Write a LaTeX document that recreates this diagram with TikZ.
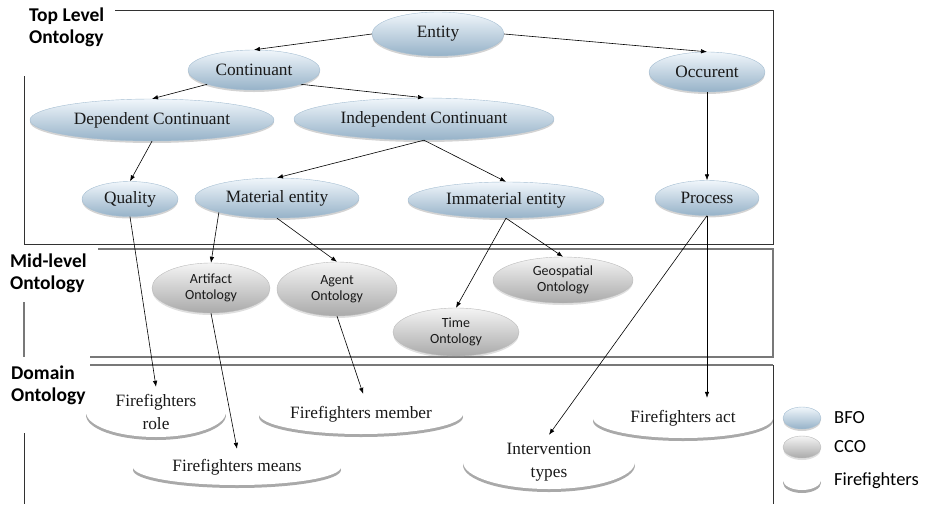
\documentclass[tikz,border=0pt]{standalone}
\usepackage{fontspec}
\setmainfont{Liberation Serif}
\newfontfamily\calib{Carlito}
\usetikzlibrary{shapes.geometric,arrows.meta,shadows}
\definecolor{bfotop}{RGB}{240,246,251}
\definecolor{bfobot}{RGB}{150,178,200}
\definecolor{bforim}{RGB}{165,190,210}
\definecolor{ccotop}{RGB}{244,244,244}
\definecolor{ccobot}{RGB}{170,170,170}
\definecolor{boxdark}{RGB}{50,50,50}
\definecolor{boxgray}{RGB}{120,120,120}
\definecolor{txt}{RGB}{25,25,25}
\tikzset{
  ell/.style={ellipse, inner sep=0pt, align=center, text=txt},
  bfo/.style={ell, top color=bfotop, bottom color=bfobot, draw=bforim, line width=0.4pt,
     font=\fontsize{17.3}{19}\selectfont,
     drop shadow={shadow xshift=0pt, shadow yshift=-2pt, opacity=0.35}},
  cco/.style={ell, top color=ccotop, bottom color=ccobot, draw=ccobot!80, line width=0.4pt,
     font=\calib\fontsize{14}{16}\selectfont,
     drop shadow={shadow xshift=0pt, shadow yshift=-2pt, opacity=0.25}},
  ffo/.style={ell, fill=white, font=\fontsize{17.3}{23}\selectfont,
     drop shadow={shadow xshift=0pt, shadow yshift=-3pt, fill=gray!90, opacity=0.75}},
  arr/.style={-{Latex[length=6pt,width=4.5pt]}, line width=0.6pt, black},
  lvl/.style={font=\calib\bfseries\fontsize{19.5}{22}\selectfont, align=left, anchor=north west, inner sep=0pt},
  leg/.style={font=\calib\fontsize{18.5}{21}\selectfont, anchor=west, inner sep=0pt},
  boxline/.style={boxdark, line width=0.8pt},
  midline/.style={boxgray, line width=1.1pt}
}
\begin{document}
\begin{tikzpicture}[x=1pt,y=-1pt]
\useasboundingbox (0,0) rectangle (927,504);
% level labels
\node[lvl] (ltop) at (29,8) {Top Level\\Ontology};
\node[lvl] (lmid) at (10,254) {Mid-level\\Ontology};
\node[lvl] (ldom) at (11,366) {Domain\\Ontology};
% boxes
\draw[boxline] (115,10) -- (773,10) -- (773,244) -- (24,244) -- (24,76);
\draw[midline] (98,249) -- (773,249) -- (773,357) -- (90,357);
\draw[midline] (24,302) -- (24,357);
\draw[midline] (90,365) -- (773,365);
\draw[boxline] (773,365) -- (773,504);
\draw[boxline] (24,433) -- (24,504);
% BFO nodes
\node[bfo, minimum width=132pt, minimum height=44pt] (entity) at (438,34) {Entity};
\node[bfo, minimum width=132pt, minimum height=40pt] (cont) at (254,70) {Continuant};
\node[bfo, minimum width=116pt, minimum height=40pt] (occ) at (707,72) {Occurent};
\node[bfo, minimum width=244pt, minimum height=42pt] (dep) at (152,120) {Dependent Continuant};
\node[bfo, minimum width=260pt, minimum height=42pt] (indep) at (424,119) {Independent Continuant};
\node[bfo, minimum width=96pt, minimum height=35pt] (qual) at (130,199) {Quality};
\node[bfo, minimum width=164pt, minimum height=40pt] (mat) at (277,198) {Material entity};
\node[bfo, minimum width=196pt, minimum height=36pt] (immat) at (506,200) {Immaterial entity};
\node[bfo, minimum width=104pt, minimum height=35pt] (proc) at (707,198) {Process};
% CCO nodes
\node[cco, minimum width=118pt, minimum height=50pt] (artif) at (211,288) {Artifact\\Ontology};
\node[cco, minimum width=120pt, minimum height=54pt] (agent) at (337,289) {Agent\\Ontology};
\node[cco, minimum width=140pt, minimum height=46pt] (geo) at (563,280) {Geospatial\\Ontology};
\node[cco, minimum width=126pt, minimum height=48pt] (time) at (456,332) {Time\\Ontology};
% Firefighters nodes
\node[ffo, minimum width=140pt, minimum height=40pt] (role) at (156,412) {Firefighters\\role};
\node[ffo, minimum width=204pt, minimum height=40pt] (member) at (361,414) {Firefighters member};
\node[ffo, minimum width=208pt, minimum height=36pt] (means) at (237,467) {Firefighters means};
\node[ffo, minimum width=172pt, minimum height=50pt] (interv) at (549,462) {Intervention\\types};
\node[ffo, minimum width=180pt, minimum height=40pt] (act) at (683,418) {Firefighters act};
% legend
\node[bfo, minimum width=38pt, minimum height=22pt] (lbfo) at (802,418) {};
\node[cco, minimum width=38pt, minimum height=22pt] (lcco) at (802,447) {};
\node[ffo, minimum width=38pt, minimum height=20pt] (lffo) at (802,480) {};
\node[leg] (tbfo) at (834,418) {BFO};
\node[leg] (tcco) at (834,447) {CCO};
\node[leg] (tffo) at (834,481) {Firefighters};
% arrows
\draw[arr] (entity.west) -- (cont.north);
\draw[arr] (entity.east) -- (occ.north);
\draw[arr] (cont.south west) -- (dep.north);
\draw[arr] (cont.south east) -- (indep.north);
\draw[arr] (dep.south) -- (qual.north);
\draw[arr] (indep.south) -- (mat.north);
\draw[arr] (indep.south) -- (immat.north);
\draw[arr] (occ.south) -- (proc.north);
\draw[arr] (qual.south) -- (role.north);
\draw[arr] (mat.south west) -- (artif.north);
\draw[arr] (mat.south) -- (agent.north);
\draw[arr] (immat.south) -- (time.north);
\draw[arr] (immat.south) -- (geo.north);
\draw[arr] (agent.south) -- (member.84);
\draw[arr] (artif.south) -- (means.north);
\draw[arr] (proc.south) -- (interv.north);
\draw[arr] (proc.south) -- (proc.south |- act.north);
\end{tikzpicture}
\end{document}
